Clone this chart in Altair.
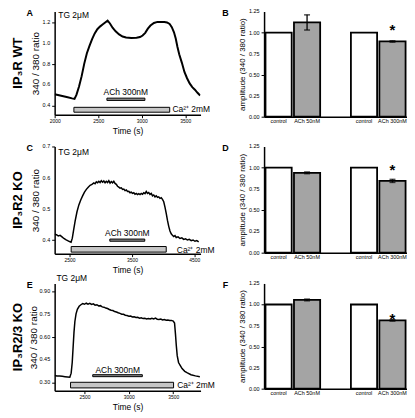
import altair as alt
import pandas as pd

FONT = "Liberation Sans, Arial, sans-serif"

# ---------------- Panel A (IP3R WT) trace ----------------
a_t = [2000, 2050, 2100, 2150, 2200, 2228, 2250, 2280, 2310, 2340, 2370, 2400, 2430, 2460, 2490,
       2520, 2550, 2580, 2608, 2635, 2665, 2700, 2740, 2780, 2820, 2880, 2940, 2980, 3010, 3040,
       3070, 3100, 3140, 3180, 3220, 3260, 3290, 3320, 3345, 3370, 3390, 3410, 3430, 3460, 3490,
       3520, 3550, 3580, 3610, 3640, 3670]
a_r = [0.507, 0.497, 0.487, 0.477, 0.467, 0.462, 0.50, 0.58, 0.68, 0.80, 0.90, 0.97, 1.035, 1.09, 1.13,
       1.155, 1.175, 1.195, 1.212, 1.185, 1.145, 1.11, 1.08, 1.06, 1.05, 1.045, 1.048, 1.055, 1.07, 1.095,
       1.135, 1.165, 1.19, 1.20, 1.20, 1.20, 1.195, 1.18, 1.15, 1.10, 1.04, 0.96, 0.89, 0.81, 0.72,
       0.66, 0.61, 0.575, 0.55, 0.52, 0.495]

# ---------------- Panel C (IP3R2 KO) trace ----------------
c_t = [2262, 2290, 2320, 2350, 2380, 2410, 2440, 2470, 2500, 2525, 2545, 2565, 2590, 2620, 2650,
       2680, 2710, 2740, 2770, 2800, 2830, 2860, 2890, 2910, 2930, 2950, 2970, 2990, 3010, 3030,
       3050, 3070, 3090, 3110, 3130, 3150, 3170, 3190, 3210, 3230, 3250, 3270, 3290, 3310, 3330,
       3350, 3370, 3390, 3410, 3430, 3450, 3470, 3490, 3510, 3530, 3550, 3570, 3590, 3610, 3630,
       3650, 3670, 3690, 3710, 3730, 3750, 3770, 3790, 3810, 3830, 3850, 3870, 3890, 3910, 3930,
       3950, 3970, 3990, 4010, 4030, 4050, 4070, 4090, 4110, 4130, 4150, 4170, 4190, 4210, 4240,
       4270, 4300, 4330, 4360, 4390, 4420, 4450, 4480, 4510, 4540, 4570]
c_r = [0.418, 0.416, 0.412, 0.414, 0.409, 0.404, 0.400, 0.397, 0.394, 0.392, 0.405, 0.430, 0.460, 0.490, 0.512,
       0.528, 0.541, 0.553, 0.562, 0.569, 0.575, 0.578, 0.583, 0.580, 0.586, 0.583, 0.588, 0.584, 0.590, 0.585,
       0.589, 0.583, 0.588, 0.584, 0.590, 0.582, 0.587, 0.583, 0.588, 0.581, 0.578, 0.572, 0.569, 0.566, 0.567,
       0.562, 0.563, 0.558, 0.560, 0.555, 0.556, 0.551, 0.553, 0.549, 0.551, 0.546, 0.549, 0.545, 0.548, 0.545,
       0.549, 0.546, 0.551, 0.548, 0.555, 0.549, 0.552, 0.546, 0.549, 0.541, 0.544, 0.538, 0.541, 0.536, 0.538,
       0.533, 0.535, 0.530, 0.522, 0.505, 0.485, 0.462, 0.443, 0.428, 0.419, 0.414, 0.410, 0.413, 0.407, 0.409,
       0.404, 0.406, 0.401, 0.403, 0.399, 0.401, 0.397, 0.399, 0.395, 0.397, 0.393]

# ---------------- Panel E (IP3R2/3 KO) trace ----------------
e_t = [2164, 2190, 2220, 2250, 2280, 2310, 2335, 2350, 2362, 2372, 2382, 2392, 2405, 2420, 2440,
       2460, 2480, 2500, 2520, 2540, 2560, 2580, 2600, 2620, 2640, 2660, 2680, 2700, 2720, 2740,
       2760, 2780, 2800, 2820, 2840, 2860, 2880, 2900, 2920, 2940, 2960, 2980, 3000, 3020, 3040,
       3060, 3080, 3100, 3120, 3140, 3160, 3180, 3200, 3220, 3240, 3260, 3280, 3300, 3320, 3340,
       3360, 3380, 3400, 3420, 3440, 3460, 3480, 3500, 3515, 3525, 3535, 3545, 3560, 3580, 3600,
       3630, 3660, 3700, 3750, 3800]
e_r = [0.345, 0.342, 0.341, 0.339, 0.337, 0.335, 0.333, 0.360, 0.430, 0.530, 0.630, 0.700, 0.750, 0.780, 0.800,
       0.810, 0.818, 0.813, 0.820, 0.814, 0.819, 0.812, 0.816, 0.807, 0.810, 0.802, 0.804, 0.796, 0.794, 0.788,
       0.785, 0.779, 0.774, 0.772, 0.765, 0.762, 0.757, 0.753, 0.748, 0.747, 0.741, 0.739, 0.735, 0.736, 0.730,
       0.731, 0.726, 0.727, 0.722, 0.724, 0.719, 0.721, 0.717, 0.719, 0.716, 0.721, 0.717, 0.722, 0.715, 0.713,
       0.716, 0.710, 0.712, 0.708, 0.710, 0.706, 0.707, 0.703, 0.690, 0.620, 0.540, 0.475, 0.430, 0.410, 0.390,
       0.372, 0.362, 0.350, 0.342, 0.337]

# annotation bars (start, end, low, high)
a_ach = [2600, 3036, 0.447, 0.469]
a_ca = [2221, 3321, 0.334, 0.381]
c_ach = [3146, 3706, 0.395, 0.402]
c_ca = [2527, 4050, 0.360, 0.378]
e_ach = [2593, 3152, 0.337, 0.350]
e_ca = [2343, 3504, 0.263, 0.300]

# label anchor positions (x, y)
a_tg, a_achlab, a_calab = [2042, 1.268], [2817, 0.532], [3352, 0.362]
c_tg, c_achlab, c_calab = [2321, 0.681], [3427, 0.423], [4220, 0.367]
e_tg, e_achlab, e_calab = [2184, 0.988], [2874, 0.381], [3545, 0.283]

# y tick labels
a_yticks, a_ylabels = [0.4, 0.6, 0.8, 1.0, 1.2], ["0.4", "0.6", "0.8", "1.0", "1.2"]
c_yticks, c_ylabels = [0.4, 0.5, 0.6, 0.7], ["0.4", "0.5", "0.6", "0.7"]
e_yticks, e_ylabels = [0.30, 0.45, 0.60, 0.75, 0.90], ["0.30", "0.45", "0.60", "0.75", "0.90"]

# ---------------- Bar panels ----------------
slots = ["control", "ACh 50nM", "gap", "control ", "ACh 300nM"]
bar_slots = ["control", "ACh 50nM", "control ", "ACh 300nM"]
bar_fill = ["white", "#a4a4a4", "white", "#a4a4a4"]
b_vals = [1.0, 1.122, 1.0, 0.894]
b_lo = [1.0, 1.03, 1.0, 0.886]
b_hi = [1.0, 1.21, 1.0, 0.902]
b_star = 1.076
d_vals = [1.0, 0.940, 1.0, 0.845]
d_lo = [1.0, 0.930, 1.0, 0.827]
d_hi = [1.0, 0.950, 1.0, 0.863]
d_star = 1.017
f_vals = [1.0, 1.054, 1.0, 0.811]
f_lo = [1.0, 1.044, 1.0, 0.803]
f_hi = [1.0, 1.064, 1.0, 0.819]
f_star = 0.876
bar_yticks = [0, 0.25, 0.5, 0.75, 1.0, 1.25]
bar_ylabels = ["0.00", "0.25", "0.50", "0.75", "1.00", "1.25"]


def ylabel_layer(ticks, labels, ys, size):
    df = pd.DataFrame({"yv": ticks, "lab": labels})
    return alt.Chart(df).mark_text(align="right", baseline="middle", font=FONT, fontSize=size,
                                   color="black").encode(
        x=alt.value(-4.5), y=alt.Y("yv:Q", scale=ys), text="lab:N")


def trace_panel(t, r, xdom, ydom, xticks, yticks, ylabels, w, h, ach, ca, tg, achlab, calab,
                letter, rowlabel, lw, tpad):
    xs = alt.Scale(domain=xdom, nice=False, zero=False)
    ys = alt.Scale(domain=ydom, nice=False, zero=False)
    xenc = alt.X("t:Q", scale=xs, axis=alt.Axis(values=xticks, format="d", title="Time (s)",
                                                 titleFontSize=8.5, titlePadding=3,
                                                 labelFontSize=5, labelOverlap=False,
                                                 labelFlush=False))
    yenc = alt.Y("r:Q", scale=ys, axis=alt.Axis(values=yticks, labels=False, title="340 / 380 ratio",
                                                 titleFontSize=10, titlePadding=tpad))
    line = alt.Chart(pd.DataFrame({"t": t, "r": r})).mark_line(
        color="black", strokeWidth=lw, clip=True).encode(x=xenc, y=yenc)
    rect_df = pd.DataFrame({"t": [ca[0], ach[0]], "t2": [ca[1], ach[1]],
                            "r": [ca[2], ach[2]], "r2": [ca[3], ach[3]],
                            "f": ["#c6c6c6", "#8c8c8c"]})
    rects = alt.Chart(rect_df).mark_rect(stroke="black", strokeWidth=1).encode(
        x=alt.X("t:Q", scale=xs), x2="t2", y=alt.Y("r:Q", scale=ys), y2="r2",
        fill=alt.Color("f:N", scale=None))
    left_df = pd.DataFrame({"t": [tg[0], calab[0]], "r": [tg[1], calab[1]],
                            "s": ["TG 2\u03bcM", "Ca\u00b2\u207a 2mM"]})
    left_txt = alt.Chart(left_df).mark_text(align="left", baseline="middle", font=FONT,
                                            fontSize=8.5, color="black").encode(
        x=alt.X("t:Q", scale=xs), y=alt.Y("r:Q", scale=ys), text="s:N")
    ach_df = pd.DataFrame({"t": [achlab[0]], "r": [achlab[1]], "s": ["ACh 300nM"]})
    ach_txt = alt.Chart(ach_df).mark_text(align="center", baseline="middle", font=FONT,
                                          fontSize=8.5, color="black").encode(
        x=alt.X("t:Q", scale=xs), y=alt.Y("r:Q", scale=ys), text="s:N")
    ylab = ylabel_layer(yticks, ylabels, ys, 5.5)
    lab = alt.Chart(pd.DataFrame({"s": [letter]})).mark_text(
        font=FONT, fontSize=9, fontWeight="bold", baseline="middle", align="center",
        color="black").encode(text="s:N", x=alt.value(-25), y=alt.value(2))
    row = alt.Chart(pd.DataFrame({"s": [rowlabel]})).mark_text(
        font=FONT, fontSize=13, fontWeight="bold", angle=270, baseline="middle", align="center",
        color="black").encode(text="s:N", x=alt.value(-37), y=alt.value(h / 2))
    return alt.layer(line, rects, left_txt, ach_txt, ylab, lab, row).properties(width=w, height=h)


def bar_panel(vals, lo, hi, star, h, letter):
    xs = alt.Scale(domain=slots, paddingInner=0.08, paddingOuter=0.05)
    ys = alt.Scale(domain=[0, 1.25], nice=False)
    xenc = alt.X("cat:N", sort=slots, scale=xs,
                 axis=alt.Axis(title=None, labelAngle=0, ticks=False, labelPadding=2,
                               labelFontSize=5.5, labelOverlap=False,
                               labelExpr="datum.label == 'gap' ? '' : trim(datum.label)"))
    yenc = alt.Y("v:Q", scale=ys,
                 axis=alt.Axis(values=bar_yticks, labels=False,
                               title="amplitude (340 / 380 ratio)",
                               titleFontSize=8, titlePadding=14))
    df = pd.DataFrame({"cat": bar_slots, "v": vals, "f": bar_fill, "lo": lo, "hi": hi})
    bars = alt.Chart(df).mark_bar(stroke="black", strokeWidth=1.8).encode(
        x=xenc, y=yenc, fill=alt.Color("f:N", scale=None))
    err_df = df[df["lo"] != df["hi"]]
    rule = alt.Chart(err_df).mark_rule(color="black", strokeWidth=1.3).encode(
        x=alt.X("cat:N", sort=slots, scale=xs), y=alt.Y("lo:Q", scale=ys), y2="hi")
    cap_lo = alt.Chart(err_df).mark_tick(color="black", size=6, thickness=1.5).encode(
        x=alt.X("cat:N", sort=slots, scale=xs), y=alt.Y("lo:Q", scale=ys))
    cap_hi = alt.Chart(err_df).mark_tick(color="black", size=6, thickness=1.5).encode(
        x=alt.X("cat:N", sort=slots, scale=xs), y=alt.Y("hi:Q", scale=ys))
    st = alt.Chart(pd.DataFrame({"cat": ["ACh 300nM"], "y": [star], "s": ["*"]})).mark_text(
        font=FONT, fontSize=15, fontWeight="bold", baseline="middle", dy=4,
        color="black").encode(x=alt.X("cat:N", sort=slots, scale=xs),
                              y=alt.Y("y:Q", scale=ys), text="s:N")
    ylab = ylabel_layer(bar_yticks, bar_ylabels, ys, 5.5)
    lab = alt.Chart(pd.DataFrame({"s": [letter]})).mark_text(
        font=FONT, fontSize=9, fontWeight="bold", baseline="middle", align="center",
        color="black").encode(text="s:N", x=alt.value(-39), y=alt.value(2))
    return alt.layer(bars, rule, cap_lo, cap_hi, st, ylab, lab).properties(width=144, height=h)


pA = trace_panel(a_t, a_r, [2000, 3675], [0.31, 1.30], [2000, 2500, 3000, 3500],
                 a_yticks, a_ylabels, 147, 104, a_ach, a_ca, a_tg, a_achlab, a_calab,
                 "A", "IP\u2083R WT", 2, 11)
pB = bar_panel(b_vals, b_lo, b_hi, b_star, 106, "B")
pC = trace_panel(c_t, c_r, [2262, 4600], [0.355, 0.70], [2500, 3000, 3500, 4000, 4500],
                 c_yticks, c_ylabels, 147, 108, c_ach, c_ca, c_tg, c_achlab, c_calab,
                 "C", "IP\u2083R2 KO", 1.5, 11)
pD = bar_panel(d_vals, d_lo, d_hi, d_star, 107, "D")
pE = trace_panel(e_t, e_r, [2164, 3808], [0.245, 0.95], [2500, 3000, 3500],
                 e_yticks, e_ylabels, 147, 108, e_ach, e_ca, e_tg, e_achlab, e_calab,
                 "E", "IP\u2083R2/3 KO", 1.5, 13)
pF = bar_panel(f_vals, f_lo, f_hi, f_star, 106, "F")

chart = alt.ConcatChart(
    concat=[pA, pB, pC, pD, pE, pF], columns=2, bounds="flush",
    spacing={"row": 30, "column": 64},
    padding={"left": 4, "top": 0, "right": 0, "bottom": 0}
).configure_view(stroke=None).configure_axis(
    grid=False, domainColor="black", domainWidth=1.5, tickColor="black", tickWidth=1,
    tickSize=3, labelFont=FONT, labelColor="black", labelPadding=1,
    titleFont=FONT, titleColor="black", titleFontWeight="normal"
)

chart.save("out.html", embed_options={"renderer": "svg", "actions": False})
